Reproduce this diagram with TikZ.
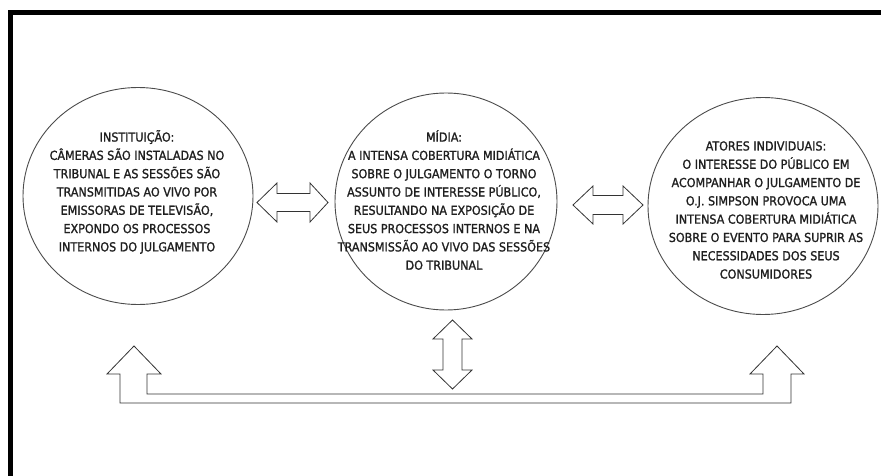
\documentclass[tikz,border=0pt]{standalone}
\usepackage{fontspec}
\setmainfont[FakeBold=1.3]{DejaVu Sans Condensed}
\usetikzlibrary{shapes.geometric}
\begin{document}
\begin{tikzpicture}[x=1pt,y=-1pt,
  actor/.style={draw=black!70, line width=0.9pt, ellipse, inner sep=0pt},
  txt/.style={align=center, inner sep=0pt, font=\fontsize{12.4}{18.3}\selectfont, text=black!88},
  blockarrow/.style={draw=black!80, line width=0.8pt, line join=miter, fill=white}]
\useasboundingbox (0,0) rectangle (881,476);
\fill[white] (0,0) rectangle (881,476);
% heavy frame edges, top and left
\fill[black] (7.7,10) rectangle (881,15);
\fill[black] (7.7,10) rectangle (12.7,476);

% the three actors
\node[actor, minimum width=230, minimum height=217] (inst) at (138,196) {};
\node[actor, minimum width=222, minimum height=217] (midia) at (446,201.5) {};
\node[actor, minimum width=230, minimum height=217] (atores) at (763,206) {};

\node[txt] (instText) at (137,192) {INSTITUIÇÃO:\\CÂMERAS SÃO INSTALADAS NO\\TRIBUNAL E AS SESSÕES SÃO\\TRANSMITIDAS AO VIVO POR\\EMISSORAS DE TELEVISÃO,\\EXPONDO OS PROCESSOS\\INTERNOS DO JULGAMENTO};
\node[txt] (midiaText) at (444,200) {MÍDIA:\\A INTENSA COBERTURA MIDIÁTICA\\SOBRE O JULGAMENTO O TORNO\\ASSUNTO DE INTERESSE PÚBLICO,\\RESULTANDO NA EXPOSIÇÃO DE\\SEUS PROCESSOS INTERNOS E NA\\TRANSMISSÃO AO VIVO DAS SESSÕES\\DO TRIBUNAL};
\node[txt] (atoresText) at (766,210) {ATORES INDIVIDUAIS:\\O INTERESSE DO PÚBLICO EM\\ACOMPANHAR O JULGAMENTO DE\\O.J. SIMPSON PROVOCA UMA\\INTENSA COBERTURA MIDIÁTICA\\SOBRE O EVENTO PARA SUPRIR AS\\NECESSIDADES DOS SEUS\\CONSUMIDORES};

% double block arrow between instituição and mídia
\draw[blockarrow] (257,202.5) -- (277,183) -- (277,193.5) -- (310,193.5) -- (310,183)
  -- (328,202.5) -- (310,222) -- (310,211.5) -- (277,211.5) -- (277,222) -- cycle;
% double block arrow between mídia and atores
\draw[blockarrow] (573,205) -- (593,186) -- (593,195.5) -- (623,195.5) -- (623,186)
  -- (643,205) -- (623,224) -- (623,214.5) -- (593,214.5) -- (593,224) -- cycle;
% vertical double block arrow below mídia
\draw[blockarrow] (452.5,320) -- (472,339) -- (462,339) -- (462,370) -- (472,370)
  -- (452.5,389) -- (433,370) -- (443,370) -- (443,339) -- (433,339) -- cycle;
% U-shaped arrow joining instituição and atores
\draw[blockarrow] (134,346) -- (161,374) -- (147,374) -- (147,394) -- (763,394)
  -- (763,374) -- (750,374) -- (777,346) -- (804,374) -- (791,374) -- (791,403)
  -- (120,403) -- (120,374) -- (107,374) -- cycle;
\end{tikzpicture}
\end{document}
